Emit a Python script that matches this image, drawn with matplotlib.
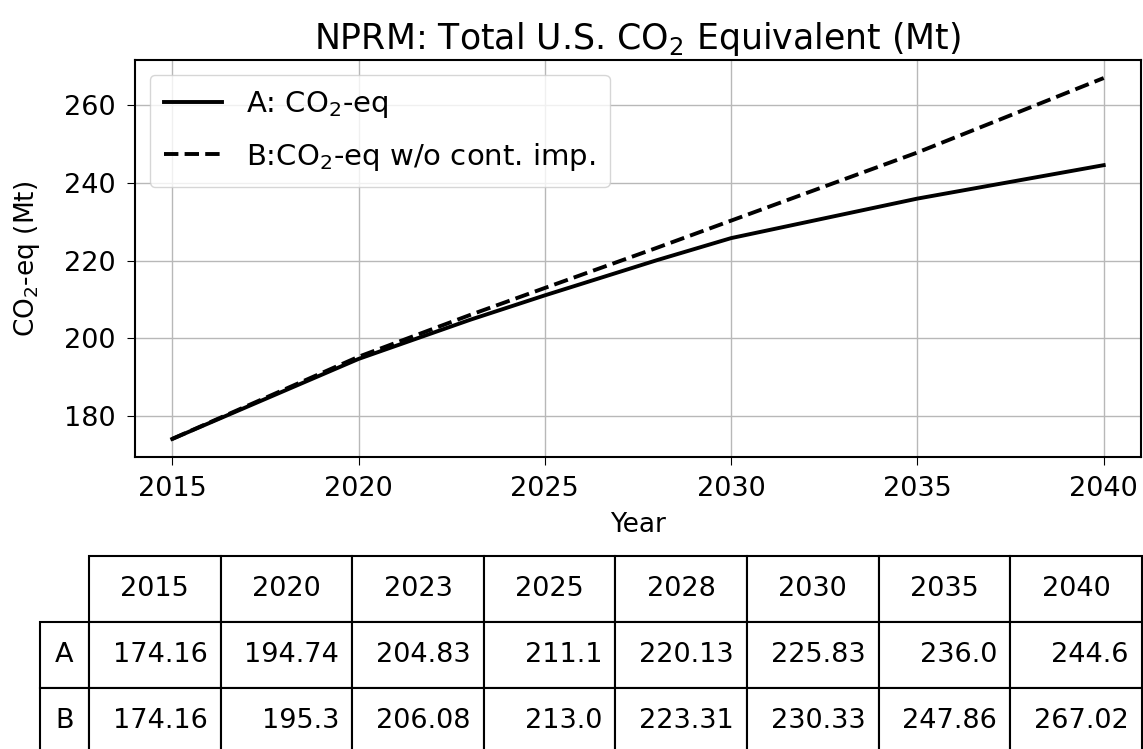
import matplotlib
matplotlib.use("Agg")
import matplotlib.pyplot as plt
from matplotlib.table import Table

years = [2015, 2020, 2023, 2025, 2028, 2030, 2035, 2040]
co2_a = [174.16, 194.74, 204.83, 211.1, 220.13, 225.83, 236.0, 244.6]
co2_b = [174.16, 195.3, 206.08, 213.0, 223.31, 230.33, 247.86, 267.02]
row_labels = ["A", "B"]
label_a = "A: CO$_2$-eq"
label_b = "B:CO$_2$-eq w/o cont. imp."

fig = plt.figure(figsize=(11.43, 7.49), dpi=100)
ax = fig.add_axes([0.1181, 0.3899, 0.8801, 0.5300])

ax.plot(years, co2_a, color="black", linestyle="-", linewidth=2.8, label=label_a)
ax.plot(years, co2_b, color="black", linestyle="--", linewidth=2.8, label=label_b)

ax.set_xlim(2014, 2041)
ax.set_xticks([2015, 2020, 2025, 2030, 2035, 2040])
ax.set_yticks([180, 200, 220, 240, 260])
ax.tick_params(labelsize=19.5, length=6, pad=8)
ax.grid(True, color="#b8b8b8", linewidth=1.0)
for s in ax.spines.values():
    s.set_linewidth(1.5)

ax.set_title("NPRM: Total U.S. CO$_2$ Equivalent (Mt)", fontsize=25, pad=8)
ax.set_xlabel("Year", fontsize=19, labelpad=7)
ax.set_ylabel("CO$_2$-eq (Mt)", fontsize=19, labelpad=16)
ax.legend(loc="upper left", fontsize=21, handlelength=2.0, borderpad=0.5,
          labelspacing=0.7, framealpha=0.8)

# table under the plot; sizes in axes fractions so the bbox scale stays ~1
col_w = 131.6 / 1006
lab_w = 49.0 / 1006
row_h = 66.0 / 397
tab = Table(ax, bbox=[-0.0457, -0.748, 8 * col_w, 3 * row_h])
for j, yr in enumerate(years):
    tab.add_cell(0, j, width=col_w, height=row_h, text=str(yr), loc="center")
for i, (lab, vals) in enumerate(zip(row_labels, [co2_a, co2_b]), start=1):
    tab.add_cell(i, -1, width=lab_w, height=row_h, text=lab, loc="center")
    for j, v in enumerate(vals):
        tab.add_cell(i, j, width=col_w, height=row_h, text=str(v), loc="right")
for cell in tab.get_celld().values():
    cell.set_linewidth(1.5)
tab.auto_set_font_size(False)
tab.set_fontsize(19.5)
ax.add_table(tab)

fig.savefig("out.png", dpi=100)
